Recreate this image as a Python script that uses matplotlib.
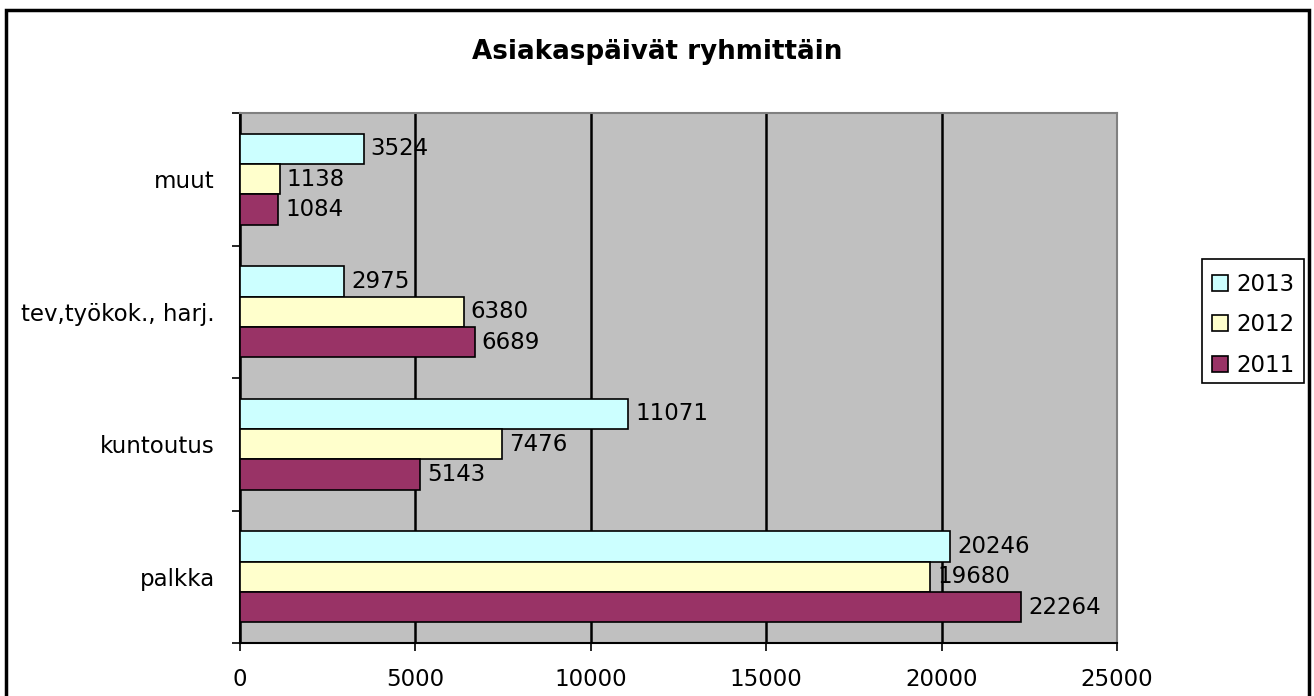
import matplotlib.pyplot as plt
import numpy as np
from matplotlib.patches import Rectangle

categories = ['palkka', 'kuntoutus', 'tev,työkok., harj.', 'muut']
years = ['2013', '2012', '2011']
values_2013 = [20246, 11071, 2975, 3524]
values_2012 = [19680, 7476, 6380, 1138]
values_2011 = [22264, 5143, 6689, 1084]
colors = ['#CCFFFF', '#FFFFCC', '#993366']


def main():
    plt.rcParams['font.family'] = ['DejaVu Sans']
    fig = plt.figure(figsize=(13.14, 6.96), dpi=100)
    ax = fig.add_axes([240 / 1314, 1 - 643 / 696, 877 / 1314, 530 / 696])
    ax.set_facecolor('#C0C0C0')

    y = np.arange(len(categories))
    h = 0.23
    series = [values_2013, values_2012, values_2011]
    offsets = [h, 0, -h]
    for vals, off, col, lab in zip(series, offsets, colors, years):
        bars = ax.barh(y + off, vals, height=h, color=col, edgecolor='black',
                       linewidth=1.2, label=lab, zorder=3)
        ax.bar_label(bars, padding=5, fontsize=16.5, zorder=4)

    ax.set_xlim(0, 25000)
    ax.set_ylim(-0.5, len(categories) - 0.5)
    ax.set_xticks(np.arange(0, 25001, 5000))
    ax.tick_params(axis='x', labelsize=16.5, length=6, width=1.2, pad=12)
    ax.set_yticks(np.arange(-0.5, len(categories), 1.0))
    ax.set_yticklabels([])
    ax.set_yticks(y, minor=True)
    ax.set_yticklabels(categories, minor=True)
    ax.tick_params(axis='y', which='major', length=6, width=1.2)
    ax.tick_params(axis='y', which='minor', length=0, labelsize=16.5, pad=18)
    ax.xaxis.grid(True, color='black', linewidth=1.8, zorder=1)
    ax.set_axisbelow(True)
    for s in ['top', 'right']:
        ax.spines[s].set_color('#808080')
        ax.spines[s].set_linewidth(1.5)
    for s in ['left', 'bottom']:
        ax.spines[s].set_linewidth(1.5)

    fig.text(0.5, 1 - 52 / 696, 'Asiakaspäivät ryhmittäin', ha='center',
             va='center', fontsize=18.8, fontweight='bold')

    # legend without frame, box drawn separately (Excel-style padding)
    fig.legend(loc='upper left', bbox_to_anchor=(1212 / 1314, 1 - 273 / 696),
               fontsize=16.5, handlelength=0.7, handleheight=0.7,
               handletextpad=0.35, labelspacing=0.76, borderpad=0,
               borderaxespad=0, frameon=False)
    fig.patches.append(Rectangle((1202 / 1314, 1 - 383 / 696), 102 / 1314, 124 / 696,
                                 transform=fig.transFigure, fill=False,
                                 edgecolor='black', linewidth=1.2))

    fig.patches.append(Rectangle((6 / 1314, -0.05), 1303 / 1314, 1.05 - 10 / 696,
                                 transform=fig.transFigure, fill=False,
                                 edgecolor='black', linewidth=2.5))
    plt.savefig('out.png', dpi=100)


if __name__ == '__main__':
    main()
